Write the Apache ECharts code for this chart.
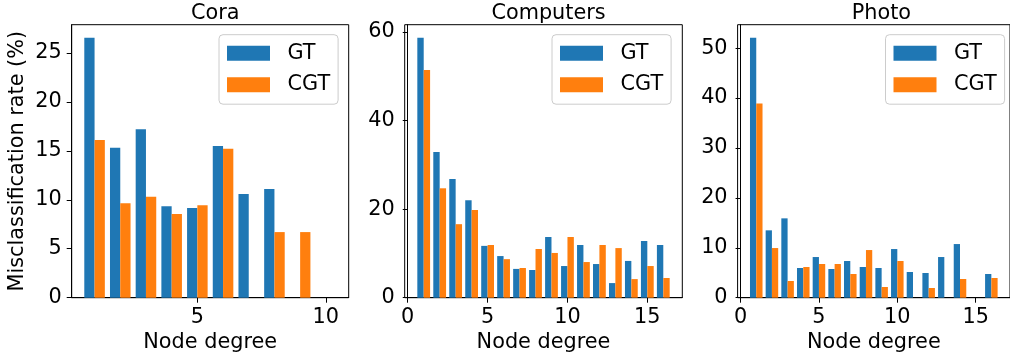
<!DOCTYPE html>
<html>
<head>
<meta charset="utf-8">
<script src="https://cdn.jsdelivr.net/npm/echarts@6/dist/echarts.min.js"></script>
<style>
html,body{margin:0;padding:0;background:#fff;}
#chart{width:1010px;height:362px;}
</style>
</head>
<body>
<div id="chart"></div>
<script>
// ---- data ----
const panelTitles = ['Cora', 'Computers', 'Photo'];
const seriesNames = ['GT', 'CGT'];

const coraDegrees = [1, 2, 3, 4, 5, 6, 7, 8, 9, 10];
const coraGT  = [26.55, 15.3, 17.2, 9.35, 9.15, 15.5, 10.6, 11.1, 0, 0];
const coraCGT = [16.1, 9.65, 10.3, 8.55, 9.45, 15.2, 0, 6.7, 6.7, 0];

const computersDegrees = [1, 2, 3, 4, 5, 6, 7, 8, 9, 10, 11, 12, 13, 14, 15, 16];
const computersGT  = [58.7, 32.9, 26.8, 22.0, 11.7, 9.4, 6.5, 6.25, 13.7, 7.15, 11.9, 7.6, 3.3, 8.3, 12.8, 11.9];
const computersCGT = [51.4, 24.7, 16.6, 19.8, 11.9, 8.7, 6.7, 11.0, 10.1, 13.7, 8.05, 11.9, 11.2, 4.2, 7.15, 4.45];

const photoDegrees = [1, 2, 3, 4, 5, 6, 7, 8, 9, 10, 11, 12, 13, 14, 15, 16];
const photoGT  = [52.1, 13.5, 15.9, 5.95, 8.15, 5.75, 7.35, 6.15, 5.95, 9.75, 5.15, 4.95, 8.15, 10.75, 0, 4.75];
const photoCGT = [38.9, 9.95, 3.35, 6.15, 6.75, 6.75, 4.75, 9.55, 2.15, 7.35, 0, 1.95, 0, 3.75, 0, 3.95];

const coraXTicks = [5, 10];
const computersXTicks = [0, 5, 10, 15];
const photoXTicks = [0, 5, 10, 15];
const coraYTicks = [0, 5, 10, 15, 20, 25];
const computersYTicks = [0, 20, 40, 60];
const photoYTicks = [0, 10, 20, 30, 40, 50];

const xName = 'Node degree';
const yName = 'Misclassification rate (%)';

// ---- layout / style ----
const FONT = 'DejaVu Sans';
const FS = 20.8;
const BLUE = '#1f77b4';
const ORANGE = '#ff7f0e';
const BAR_W = 0.4;

const panels = [
  {deg: coraDegrees, gt: coraGT, cgt: coraCGT, xt: coraXTicks, yt: coraYTicks, left: 71.7, width: 277, legendLeft: 219},
  {deg: computersDegrees, gt: computersGT, cgt: computersCGT, xt: computersXTicks, yt: computersYTicks, left: 404.7, width: 277.6, legendLeft: 552},
  {deg: photoDegrees, gt: photoGT, cgt: photoCGT, xt: photoXTicks, yt: photoYTicks, left: 737.6, width: 277.5, legendLeft: 885.5}
];
const TOP = 24.7, HEIGHT = 273;

function renderBar(offset) {
  return function (params, api) {
    const d = api.value(0), v = api.value(1);
    const p0 = api.coord([d + offset, v]);
    const p1 = api.coord([d + offset + BAR_W, 0]);
    return {
      type: 'rect',
      shape: {x: p0[0], y: p0[1], width: p1[0] - p0[0], height: p1[1] - p0[1]},
      style: {fill: api.visual('color')}
    };
  };
}

const grid = [], xAxis = [], yAxis = [], series = [], title = [], legend = [];
panels.forEach((p, i) => {
  grid.push({left: p.left, top: TOP, width: p.width, height: HEIGHT, show: true, borderColor: '#000', borderWidth: 1, containLabel: false});
  const lo = Math.min(...p.deg) - BAR_W, hi = Math.max(...p.deg) + BAR_W;
  const m = (hi - lo) * 0.05;
  const ymax = Math.max(...p.gt, ...p.cgt) * 1.05;
  xAxis.push({
    type: 'value', gridIndex: i, min: lo - m, max: hi + m,
    name: xName, nameLocation: 'middle', nameGap: 34,
    nameTextStyle: {fontFamily: FONT, fontSize: FS, color: '#000'},
    axisLine: {show: true, onZero: false, lineStyle: {color: '#000', width: 1}},
    axisTick: {show: true, length: 5, lineStyle: {color: '#000', width: 1}, customValues: p.xt},
    axisLabel: {show: true, color: '#000', fontFamily: FONT, fontSize: FS, margin: 9, customValues: p.xt},
    splitLine: {show: false}
  });
  yAxis.push({
    type: 'value', gridIndex: i, min: 0, max: ymax,
    name: i === 0 ? yName : '', nameLocation: 'middle', nameGap: 44,
    nameTextStyle: {fontFamily: FONT, fontSize: FS, color: '#000'},
    axisLine: {show: true, lineStyle: {color: '#000', width: 1}},
    axisTick: {show: true, length: 5, lineStyle: {color: '#000', width: 1}, customValues: p.yt},
    axisLabel: {show: true, color: '#000', fontFamily: FONT, fontSize: FS, margin: 10, customValues: p.yt},
    splitLine: {show: false}
  });
  series.push({
    type: 'custom', name: seriesNames[0], xAxisIndex: i, yAxisIndex: i,
    itemStyle: {color: BLUE}, renderItem: renderBar(-BAR_W),
    data: p.deg.map((d, k) => [d, p.gt[k]]), silent: true
  });
  series.push({
    type: 'custom', name: seriesNames[1], xAxisIndex: i, yAxisIndex: i,
    itemStyle: {color: ORANGE}, renderItem: renderBar(0),
    data: p.deg.map((d, k) => [d, p.cgt[k]]), silent: true
  });
  title.push({
    text: panelTitles[i], left: p.left + p.width / 2, top: -1.5, textAlign: 'center',
    textStyle: {fontFamily: FONT, fontSize: FS, fontWeight: 'normal', color: '#000'}
  });
  legend.push({
    data: seriesNames, orient: 'vertical', left: p.legendLeft, top: 34.7,
    icon: 'rect', itemWidth: 43, itemHeight: 15, itemGap: 10.5,
    selectedMode: false,
    padding: [8, 8, 9, 8],
    backgroundColor: 'rgba(255,255,255,0.8)', borderColor: '#cccccc', borderWidth: 1, borderRadius: 4,
    textStyle: {fontFamily: FONT, fontSize: FS, color: '#000', padding: [0, 0, 0, 12.5]}
  });
});

const chart = echarts.init(document.getElementById('chart'), null, {renderer: 'canvas'});
chart.setOption({
  animation: false,
  backgroundColor: '#fff',
  title, legend, grid, xAxis, yAxis, series
});
</script>
</body>
</html>
